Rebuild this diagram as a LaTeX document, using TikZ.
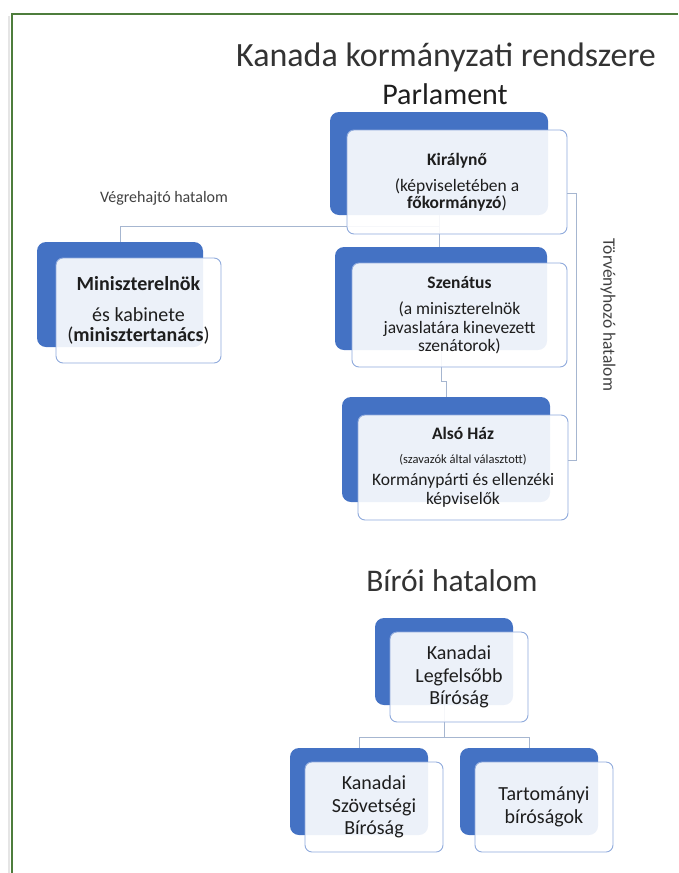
\documentclass[tikz,border=0pt]{standalone}
\usepackage{fontspec}
\setmainfont{Carlito}
\definecolor{smblue}{HTML}{4472C4}
\definecolor{smline}{HTML}{8FAADC}
\definecolor{connline}{HTML}{A6B6D0}
\definecolor{framegreen}{HTML}{4E7D3C}
\definecolor{boxtext}{HTML}{1E1E1E}
\begin{document}
\begin{tikzpicture}[x=1pt, y=-1pt,
  every node/.style={text=boxtext},
  bgbox/.style={fill=smblue, rounded corners=9pt, inner sep=0pt},
  frontbox/.style={draw=smline, line width=0.9pt, fill=white, fill opacity=0.9, text opacity=1,
    rounded corners=7pt, align=center, inner sep=0pt, font=\fontsize{17.5}{18.5}\selectfont},
  courtbox/.style={frontbox, minimum width=138pt, minimum height=90pt, font=\fontsize{20}{22.5}\selectfont},
  courtbg/.style={bgbox, minimum width=138pt, minimum height=87pt},
  conn/.style={draw=connline, line width=1pt}]
\useasboundingbox (0,0) rectangle (678,873);
% frame
\draw[black!10, line width=2pt] (9,873) -- (9,16);
\draw[framegreen, line width=2.4pt] (12,873) -- (12,14) -- (678,14);

% headings
\node[font=\fontsize{34}{38}\selectfont, text=black!80] (title) at (446,57) {Kanada kormányzati rendszere};
\node[font=\fontsize{30}{34}\selectfont] (parl) at (445,94) {Parlament};
\node[font=\fontsize{16}{19}\selectfont, text=black!75] (exec) at (164,198) {Végrehajtó hatalom};
\node[font=\fontsize{17.5}{20}\selectfont, text=black!75, rotate=-90] (legis) at (608,315) {Törvényhozó hatalom};
\node[font=\fontsize{31.5}{36}\selectfont, text=black!80] (judic) at (452,581) {Bírói hatalom};

% back boxes
\node[bgbox, minimum width=218pt, minimum height=103pt] (kiraly-bg) at (439,163.5) {};
\node[bgbox, minimum width=166pt, minimum height=105pt] (minisz-bg) at (120,294.5) {};
\node[bgbox, minimum width=212pt, minimum height=103pt] (szenatus-bg) at (441,298.5) {};
\node[bgbox, minimum width=208pt, minimum height=105pt] (alsohaz-bg) at (446,449.5) {};
\node[courtbg] (legfelsobb-bg) at (444,661.5) {};
\node[courtbg] (szovetsegi-bg) at (359,791.5) {};
\node[courtbg] (tartomanyi-bg) at (529,791.5) {};

% connectors under the boxes
\coordinate (execfork) at (440,226);
\coordinate (courtfork) at (444,737);
\draw[conn] (kiraly-bg.south) -- (kiraly-bg.south |- szenatus-bg.north);
\draw[conn] (execfork) -| (minisz-bg.north);
\draw[conn] (szenatus-bg.south) -- ++(0,31) -| (alsohaz-bg.north);
\draw[conn] (legfelsobb-bg.south) -- (courtfork);
\draw[conn] (courtfork) -| (szovetsegi-bg.north);
\draw[conn] (courtfork) -| (tartomanyi-bg.north);

% front boxes
\node[frontbox, minimum width=220pt, minimum height=104pt, font=\fontsize{17.5}{16.5}\selectfont] (kiraly) at (457,182)
  {\textbf{Királynő}\\[10pt](képviseletében a\\\textbf{főkormányzó})};
\node[frontbox, minimum width=165pt, minimum height=105pt, font=\fontsize{20}{20.5}\selectfont] (minisz) at (138.5,310.5)
  {\textbf{Miniszterelnök}\\[10pt]és kabinete\\(\textbf{minisztertanács})};
\node[frontbox, minimum width=215pt, minimum height=104pt] (szenatus) at (459.5,315)
  {\textbf{Szenátus}\\[8pt](a miniszterelnök\\javaslatára kinevezett\\szenátorok)};
\node[frontbox, minimum width=210pt, minimum height=105pt] (alsohaz) at (463,467.5)
  {\textbf{Alsó Ház}\\[5pt]{\fontsize{12.5}{14}\selectfont(szavazók által választott)}\\[4pt]Kormánypárti és ellenzéki\\képviselők};
\node[courtbox] (legfelsobb) at (459,677) {Kanadai\\Legfelsőbb\\Bíróság};
\node[courtbox] (szovetsegi) at (374,807) {Kanadai\\Szövetségi\\Bíróság};
\node[courtbox] (tartomanyi) at (544,807) {Tartományi\\bíróságok};

% bracket of the legislative branch
\coordinate (brtop) at (576,193);
\coordinate (brbot) at (576,460);
\draw[conn] (kiraly.east |- brtop) -- (brtop) -- (brbot) -- (alsohaz.east |- brbot);
\end{tikzpicture}
\end{document}
